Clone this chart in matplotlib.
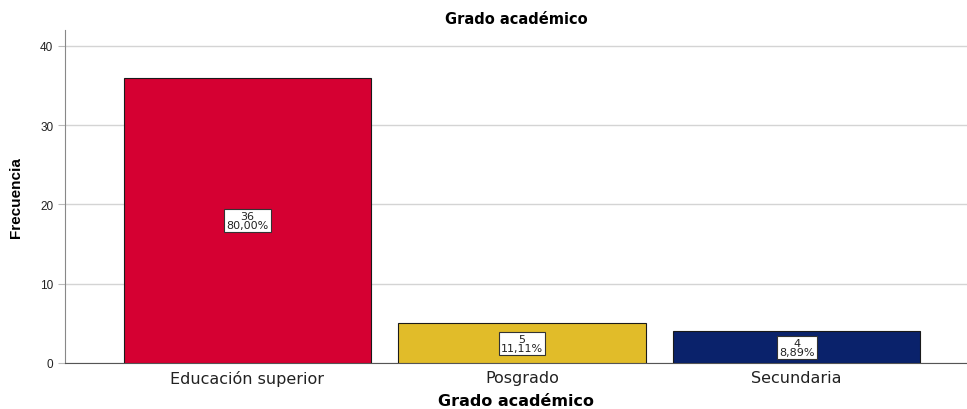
import matplotlib.pyplot as plt

categories = ["Educación superior", "Posgrado", "Secundaria"]
counts = [36, 5, 4]
percents = ["80,00%", "11,11%", "8,89%"]
colors = ["#D50032", "#E1BC29", "#0A226B"]

plt.rcParams["font.family"] = ["Liberation Sans", "DejaVu Sans"]

fig = plt.figure(figsize=(9.67, 4.10), dpi=100)
ax = fig.add_axes([0.0672, 0.1122, 0.9328, 0.8122])

x = list(range(len(categories)))
bars = ax.bar(x, counts, width=0.9, color=colors, edgecolor="#1a1a1a", linewidth=0.8, zorder=3)

for xi, c, p in zip(x, counts, percents):
    ax.text(xi, c / 2, f"{c}\n{p}", ha="center", va="center", fontsize=8,
            family="DejaVu Sans", linespacing=0.85, color="#222222", zorder=4,
            bbox=dict(boxstyle="square,pad=0.2", fc="white", ec="#333333", lw=0.8))

ax.set_xlim(-0.664, 2.62)
ax.set_ylim(0, 42)
ax.set_yticks([0, 10, 20, 30, 40])
ax.yaxis.grid(True, color="#D4D4D4", linewidth=1.0, zorder=0)
ax.set_axisbelow(True)

ax.set_xticks(x)
ax.set_xticklabels(categories, fontsize=11.5, family="DejaVu Sans")
ax.tick_params(axis="x", length=0, pad=5, colors="#222222")
ax.tick_params(axis="y", length=5, width=0.8, labelsize=8.5, color="#BBBBBB", colors="#222222")

for s in ["top", "right"]:
    ax.spines[s].set_visible(False)
ax.spines["left"].set_color("#888888")
ax.spines["bottom"].set_color("#555555")

ax.set_title("Grado académico", fontsize=10.5, fontweight="bold", pad=5, family="DejaVu Sans")
ax.set_xlabel("Grado académico", fontsize=11.5, fontweight="bold", labelpad=5, family="DejaVu Sans")
ax.set_ylabel("Frecuencia", fontsize=11, fontweight="bold", labelpad=12)

fig.savefig("out.png", dpi=100)
